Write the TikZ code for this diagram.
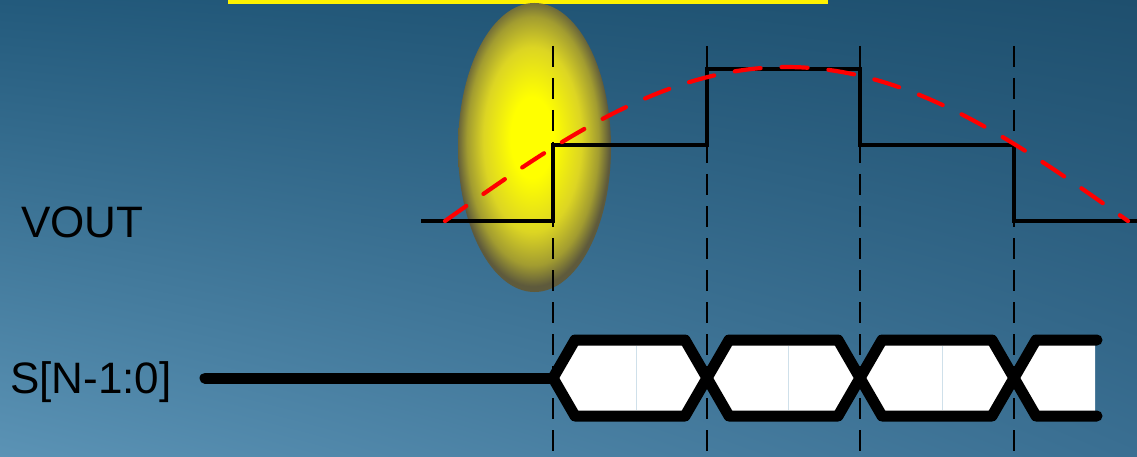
\documentclass[tikz,border=0pt]{standalone}
\usepackage{fontspec}
\setmainfont{Liberation Sans}
\usetikzlibrary{shapes.geometric}
\definecolor{glowA}{HTML}{DCD523}
\definecolor{glowB}{HTML}{A29C30}
\definecolor{glowC}{HTML}{5E5A3C}
\definecolor{seam}{HTML}{CFE0EA}
\pgfdeclareradialshading{glow}{\pgfpoint{-1bp}{2bp}}{color(0bp)=(yellow); color(7bp)=(yellow); color(16bp)=(glowA); color(21.5bp)=(glowB); color(25bp)=(glowC); color(50bp)=(glowC)}
\pgfdeclarefunctionalshading{bgshade}{\pgfpoint{0bp}{0bp}}{\pgfpoint{100bp}{100bp}}{}{
 75 exch sub 50 div exch 75 exch sub 50 div exch
 2 copy mul
 2 index 0.019 mul 2 index 0.109 mul add 1 index 0.111 mul add 0.118 add
 3 index 0.043 mul 3 index 0.125 mul add 2 index 0.098 mul add 0.310 add
 4 index 0.055 mul 4 index 0.142 mul add 3 index 0.082 mul add 0.431 add
 6 3 roll pop pop pop
}
\tikzset{
  lbl/.style={anchor=base west, inner sep=0, font=\fontsize{44}{50}\selectfont},
  grid line/.style={black, line width=2.3, dash pattern=on 21 off 11},
  stair/.style={black, line width=3.8, line join=miter},
  sine/.style={red, line width=4.2, line cap=round, dash pattern=on 26 off 21},
  bus/.style={black, line width=11, line join=round, line cap=round},
  hexfill/.style={fill=white},
  seamline/.style={seam, line width=0.8},
}
\begin{document}
\begin{tikzpicture}[x=1pt, y=-1pt]
\useasboundingbox (0,0) rectangle (1137,457);
\shade[shading=bgshade] (0,0) rectangle (1137,457);
% top bar
\fill[yellow] (228,0) rectangle (828,4);
% glow
\node[ellipse, minimum width=153, minimum height=289, inner sep=0, shading=glow] (glow) at (534.5,147.5) {};
% grid lines
\foreach \n/\x in {g1/553, g2/707, g3/860, g4/1014} {
  \coordinate (\n t) at (\x,46);
  \coordinate (\n b) at (\x,460);
  \draw[grid line] (\n t) -- (\n b);
}
% labels
\node[lbl] (vout) at (21,237) {VOUT};
\node[lbl] (sbus) at (10,393) {S[N-1:0]};
% VOUT staircase
\coordinate (v0) at (421,221);
\coordinate (v1) at (553,221);
\coordinate (v2) at (553,145);
\coordinate (v3) at (707,145);
\coordinate (v4) at (707,69);
\coordinate (v5) at (860,69);
\coordinate (v6) at (860,145);
\coordinate (v7) at (1014,145);
\coordinate (v8) at (1014,221);
\coordinate (v9) at (1140,221);
\draw[stair] (v0) -- (v1) -- (v2) -- (v3) -- (v4) -- (v5) -- (v6) -- (v7) -- (v8) -- (v9);
% red sine
\draw[sine] plot[domain=0:180, samples=80] ({445+3.7944*\x},{221-154*sin(\x)});
% bus
\coordinate (b0) at (205,378);
\coordinate (b1) at (553,378);
\draw[bus] (b0) -- (b1);
\foreach \xs/\xe/\xm in {553/707/636, 707/860/788, 860/1014/942} {
  \filldraw[bus, hexfill] (\xs,378) -- (\xs+22,340) -- (\xe-22,340) -- (\xe,378) -- (\xe-22,416) -- (\xs+22,416) -- cycle;
  \draw[seamline] (\xm,346) -- (\xm,410);
}
\fill[white] (1014,378) -- (1036,340) -- (1095,340) -- (1095,416) -- (1036,416) -- cycle;
\draw[bus] (1097,340) -- (1036,340) -- (1014,378) -- (1036,416) -- (1097,416);
\end{tikzpicture}
\end{document}
